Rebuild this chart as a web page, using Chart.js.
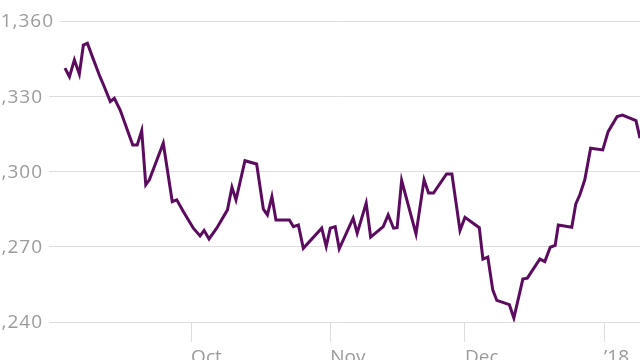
<!DOCTYPE html>
<html lang="en">
<head>
<meta charset="UTF-8" />
<title>Index, Sep 2017 - Jan 2018</title>
<script src="https://cdn.jsdelivr.net/npm/chart.js"></script>
<style>
    html, body { margin: 0; padding: 0; background: #fff; overflow: hidden; }
    #chart { display: block; }
</style>
</head>
<body>

<canvas id="chart" width="640" height="360"></canvas>

<script>
// days counted from 1 Sep 2017
const days = [1.9, 2.9, 4.0, 5.1, 6.0, 6.9, 8.0, 9.7, 10.5, 12.0, 12.9, 14.2, 17.0, 18.0, 19.0, 19.9, 20.7,
    23.8, 25.8, 26.8, 28.3, 30.5, 32.0, 32.9, 34.0, 35.7, 38.1, 39.1, 40.0, 42.0, 44.6, 46.1, 47.0, 48.0,
    48.9, 51.9, 52.8, 53.9, 55.0, 59.1, 60.1, 61.0, 62.1, 63.0, 66.1, 67.0, 69.0, 70.0, 72.8, 73.9, 75.1,
    75.9, 76.9, 80.1, 81.9, 82.9, 84.0, 86.9, 88.1, 89.9, 91.0, 94.2, 95.0, 96.1, 97.2, 98.1, 100.9, 101.9,
    103.9, 104.9, 107.7, 108.8, 110.0, 111.1, 111.8, 114.8, 115.7, 116.6, 117.7, 119.0, 121.7, 122.9,
    124.9, 126.1, 129.1, 130.0];
const values = [1341.2, 1337.8, 1344.5, 1338.8, 1350.4, 1351.1, 1345.8, 1337.8, 1334.5, 1327.9, 1329.2,
    1324.5, 1310.6, 1310.6, 1316.3, 1294.7, 1296.7, 1311.3, 1288.0, 1288.7, 1284.0, 1277.4, 1274.3, 1276.5,
    1273.1, 1277.4, 1284.7, 1293.7, 1288.7, 1304.3, 1303.0, 1285.0, 1282.7, 1290.0, 1280.7, 1280.7, 1278.0,
    1278.7, 1269.4, 1277.4, 1270.1, 1277.4, 1278.0, 1269.2, 1281.4, 1275.4, 1287.4, 1273.8, 1278.0, 1282.7,
    1277.4, 1277.6, 1296.4, 1275.1, 1296.7, 1291.4, 1291.4, 1299.0, 1299.0, 1276.5, 1281.7, 1277.6, 1265.1,
    1265.9, 1252.8, 1248.6, 1246.9, 1241.6, 1257.1, 1257.5, 1265.1, 1264.1, 1269.8, 1270.5, 1278.7, 1277.8,
    1287.1, 1290.7, 1296.7, 1309.3, 1308.6, 1315.9, 1321.9, 1322.5, 1320.3, 1313.3];

const monthTicks = [30, 61, 91, 122];
const monthLabels = ['Oct', 'Nov', 'Dec', '\u201918'];

const gray = '#9b9b9b';
const gridGray = '#dedede';

// y labels sit on the gridlines with a white patch behind them
const yLabels = {
    id: 'yLabels',
    afterDraw(chart) {
        const ctx = chart.ctx;
        const y = chart.scales.y;
        ctx.save();
        ctx.font = '19px "Open Sans"';
        ctx.letterSpacing = '1px';
        ctx.textAlign = 'right';
        ctx.textBaseline = 'middle';
        y.ticks.forEach((t, i) => {
            const py = y.getPixelForValue(t.value);
            const right = i === y.ticks.length - 1 ? 54 : 43;
            ctx.fillStyle = '#fff';
            ctx.fillRect(0, py - 2, right + 6, 4);
            ctx.fillStyle = gray;
            ctx.fillText(t.value.toLocaleString('en-US'), right, py + 1);
        });
        ctx.restore();
    }
};

new Chart(document.getElementById('chart'), {
    type: 'line',
    data: {
        datasets: [{
            data: days.map((d, i) => ({ x: d, y: values[i] })),
            borderColor: '#5b0c5e',
            borderWidth: 3,
            pointRadius: 0,
            tension: 0,
            fill: false
        }]
    },
    options: {
        responsive: false,
        animation: false,
        layout: { padding: { top: 21, left: 0, right: 0, bottom: 0 } },
        plugins: { legend: { display: false }, tooltip: { enabled: false } },
        scales: {
            x: {
                type: 'linear',
                min: -2.1,
                max: 130,
                afterBuildTicks: s => { s.ticks = monthTicks.map(v => ({ value: v })); },
                afterFit: s => { s.height = 38; },
                border: { display: false },
                grid: { drawOnChartArea: false, drawTicks: true, tickLength: 20, color: gridGray },
                ticks: {
                    autoSkip: false,
                    maxRotation: 0,
                    align: 'start',
                    padding: 4,
                    color: gray,
                    font: { family: 'Open Sans', size: 19 },
                    callback: v => monthLabels[monthTicks.indexOf(v)]
                }
            },
            y: {
                min: 1240,
                max: 1360,
                afterFit: s => { s.width = 47; },
                border: { display: false },
                grid: { color: gridGray, drawTicks: false },
                ticks: { stepSize: 30, display: false }
            }
        }
    },
    plugins: [yLabels]
});
</script>

</body>
</html>
